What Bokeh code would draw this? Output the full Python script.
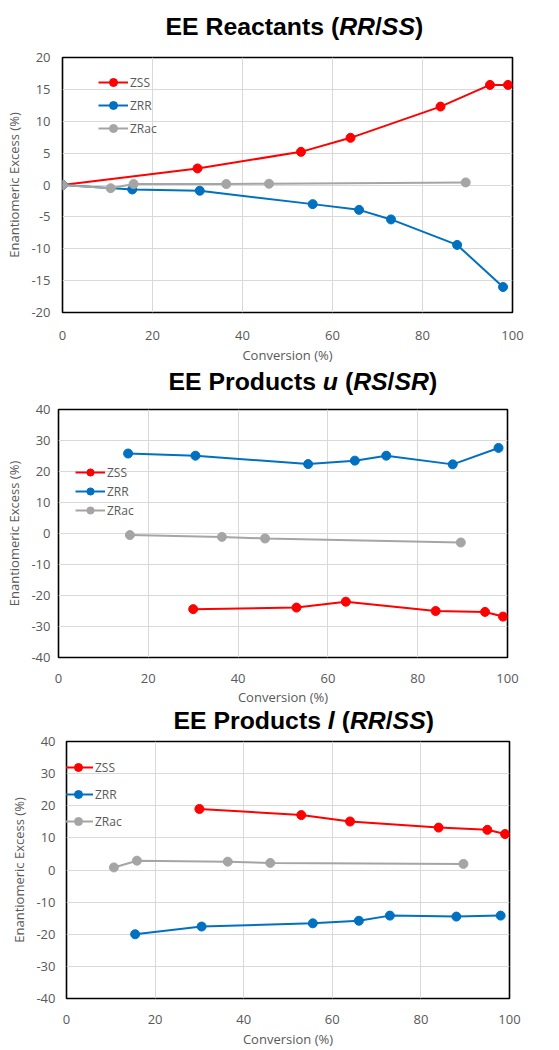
from bokeh.core.properties import value
from bokeh.embed import file_html
from bokeh.layouts import column
from bokeh.models import FixedTicker, Legend, LegendItem, Range1d
from bokeh.plotting import figure
from bokeh.resources import INLINE

# ---------------- data: conversion (%) vs enantiomeric excess (%) ----------------
# EE Reactants (RR/SS)
react_zss_x = [0, 30, 53, 64, 84, 95, 99]
react_zss_y = [0, 2.6, 5.2, 7.4, 12.3, 15.7, 15.7]
react_zrr_x = [0, 15.5, 30.5, 55.6, 65.9, 73, 87.7, 97.9]
react_zrr_y = [0, -0.7, -0.9, -3.0, -3.9, -5.4, -9.4, -16.0]
react_zrac_x = [0, 10.7, 15.8, 36.4, 45.9, 89.6]
react_zrac_y = [0, -0.5, 0.15, 0.15, 0.2, 0.4]

# EE Products u (RS/SR)
u_zss_x = [30, 53, 64, 84, 95, 99]
u_zss_y = [-24.4, -23.9, -22.0, -25.0, -25.3, -26.8]
u_zrr_x = [15.5, 30.5, 55.6, 66, 73, 87.8, 98]
u_zrr_y = [25.8, 25.1, 22.4, 23.5, 25.1, 22.3, 27.6]
u_zrac_x = [15.9, 36.4, 46, 89.6]
u_zrac_y = [-0.5, -1.1, -1.6, -2.9]

# EE Products l (RR/SS)
l_zss_x = [30, 53, 64, 84, 95, 99]
l_zss_y = [19.0, 17.1, 15.1, 13.2, 12.5, 11.2]
l_zrr_x = [15.5, 30.5, 55.6, 66, 73, 88, 98]
l_zrr_y = [-20.0, -17.6, -16.6, -15.8, -14.2, -14.5, -14.2]
l_zrac_x = [10.7, 15.9, 36.4, 46, 89.6]
l_zrac_y = [0.8, 2.9, 2.6, 2.2, 1.9]

series_names = ["ZSS", "ZRR", "ZRac"]
series_colors = ["#FF0000", "#0070C0", "#A5A5A5"]

x_ticks = [0, 20, 40, 60, 80, 100]
x_tick_labels = ["0", "20", "40", "60", "80", "100"]
react_y_ticks = [-20, -15, -10, -5, 0, 5, 10, 15, 20]
react_y_tick_labels = ["-20", "-15", "-10", "-5", "0", "5", "10", "15", "20"]
prod_y_ticks = [-40, -30, -20, -10, 0, 10, 20, 30, 40]
prod_y_tick_labels = ["-40", "-30", "-20", "-10", "0", "10", "20", "30", "40"]

x_title = "Conversion (%)"
y_title = "Enantiomeric Excess (%)"

react_title = [("EE Reactants (", "bold"), ("RR", "bold italic"), ("/", "bold"),
               ("SS", "bold italic"), (")", "bold")]
u_title = [("EE Products ", "bold"), ("u", "bold italic"), (" (", "bold"),
           ("RS", "bold italic"), ("/", "bold"), ("SR", "bold italic"), (")", "bold")]
l_title = [("EE Products ", "bold"), ("l", "bold italic"), (" (", "bold"),
           ("RR", "bold italic"), ("/", "bold"), ("SS", "bold italic"), (")", "bold")]

# ---------------- styling ----------------
WIDTH = 559
TEXT_GRAY = "#595959"
GRID_GRAY = "#D9D9D9"
SMALL_FONT = "Open Sans"
TITLE_FONT = "Liberation Sans"
TITLE_SIZE = 24.8
# distance from the centre of the font box to the alphabetic baseline
BASELINE_SHIFT = (0.905 - 0.212) / 2 * TITLE_SIZE

# advance widths (1/1000 em) of Liberation Sans Bold, used to butt title pieces together
BOLD_ADVANCE = {" ": 278, "(": 333, ")": 333, "/": 278, "E": 667, "P": 667, "R": 722,
                "S": 667, "a": 556, "c": 556, "d": 611, "e": 556, "l": 278, "n": 611,
                "o": 611, "r": 389, "s": 556, "t": 333, "u": 611}


def advance(s, size):
    return sum(BOLD_ADVANCE[ch] for ch in s) * size / 1000.0


def make_title(parts, height, start_x, baseline):
    """A strip holding a title made of bold and bold-italic pieces."""
    t = figure(frame_width=WIDTH, frame_height=height, min_border=0,
               x_range=Range1d(0, WIDTH), y_range=Range1d(0, height),
               x_axis_location=None, y_axis_location=None,
               toolbar_location=None, output_backend="svg", tools="")
    t.outline_line_color = None
    t.background_fill_color = "white"
    t.border_fill_color = "white"
    t.xgrid.visible = False
    t.ygrid.visible = False
    x = start_x
    y = baseline + BASELINE_SHIFT
    for text, style in parts:
        lead = len(text) - len(text.lstrip(" "))
        t.text(x=[x + advance(" " * lead, TITLE_SIZE)], y=[y], text=[text.strip(" ")],
               text_font=value(TITLE_FONT), text_font_style=value(style),
               text_font_size=value(f"{TITLE_SIZE}px"), text_color="black",
               text_align="left", text_baseline="middle")
        x += advance(text, TITLE_SIZE)
    return t


def make_panel(series, y_ticks, y_labels, geom, leg):
    y_lo, y_hi = y_ticks[0], y_ticks[-1]
    p = figure(frame_width=geom["fw"], frame_height=geom["fh"],
               min_border_left=geom["bl"], min_border_right=WIDTH - geom["bl"] - geom["fw"],
               min_border_top=geom["bt"], min_border_bottom=geom["bb"],
               x_range=Range1d(0, 100), y_range=Range1d(y_lo, y_hi),
               toolbar_location=None, output_backend="svg", tools="")
    p.background_fill_color = "white"
    p.border_fill_color = "white"
    p.outline_line_color = "black"
    p.outline_line_width = 1.6

    p.xaxis.ticker = FixedTicker(ticks=x_ticks)
    p.yaxis.ticker = FixedTicker(ticks=y_ticks)
    p.xaxis.major_label_overrides = dict(zip(x_ticks, x_tick_labels))
    p.yaxis.major_label_overrides = dict(zip(y_ticks, y_labels))
    for ax in (p.xaxis, p.yaxis):
        ax.axis_line_color = None
        ax.major_tick_line_color = None
        ax.minor_tick_line_color = None
        ax.major_tick_out = 0
        ax.major_tick_in = 0
        ax.major_label_text_font = SMALL_FONT
        ax.major_label_text_font_size = "13px"
        ax.major_label_text_color = TEXT_GRAY
        ax.axis_label_text_font = SMALL_FONT
        ax.axis_label_text_font_size = "13px"
        ax.axis_label_text_font_style = "normal"
        ax.axis_label_text_color = TEXT_GRAY
    p.xaxis.axis_label = x_title
    p.yaxis.axis_label = y_title
    p.xaxis.major_label_standoff = geom["xls"]
    p.xaxis.axis_label_standoff = geom["xas"]
    p.yaxis.major_label_standoff = geom["yls"]
    p.yaxis.axis_label_standoff = 5

    p.xgrid.grid_line_color = GRID_GRAY
    p.ygrid.grid_line_color = GRID_GRAY

    items = []
    for name, color, (xs, ys) in zip(series_names, series_colors, series):
        ln = p.line(xs, ys, line_color=color, line_width=2)
        sc = p.scatter(xs, ys, marker="circle", size=9, fill_color=color, line_color=color)
        items.append(LegendItem(label=name, renderers=[ln, sc]))

    legend = Legend(items=items, location=(leg["vx"], leg["vy"]),
                    border_line_color=None, background_fill_alpha=0,
                    padding=0, margin=0, spacing=leg["sp"],
                    glyph_width=30, glyph_height=leg["h"], label_height=leg["h"],
                    label_standoff=2, label_text_font=SMALL_FONT,
                    label_text_font_size="12px", label_text_color=TEXT_GRAY)
    p.add_layout(legend)
    return p


t1 = make_title(react_title, 47, 165, 12)
p1 = make_panel(
    [(react_zss_x, react_zss_y), (react_zrr_x, react_zrr_y), (react_zrac_x, react_zrac_y)],
    react_y_ticks, react_y_tick_labels,
    dict(fw=450, fh=255, bl=62, bt=10, bb=54, xls=18, xas=3, yls=12),
    dict(vx=36, vy=174, h=20, sp=3),
)
t2 = make_title(u_title, 34, 168, 10.7)
p2 = make_panel(
    [(u_zss_x, u_zss_y), (u_zrr_x, u_zrr_y), (u_zrac_x, u_zrac_y)],
    prod_y_ticks, prod_y_tick_labels,
    dict(fw=449, fh=248, bl=58, bt=9, bb=51, xls=16, xas=2, yls=8),
    dict(vx=17, vy=138, h=18, sp=1),
)
t3 = make_title(l_title, 25, 173, 4.7)
p3 = make_panel(
    [(l_zss_x, l_zss_y), (l_zrr_x, l_zrr_y), (l_zrac_x, l_zrac_y)],
    prod_y_ticks, prod_y_tick_labels,
    dict(fw=443, fh=257, bl=66, bt=8, bb=52, xls=16, xas=3, yls=11),
    dict(vx=-3, vy=167, h=20, sp=7),
)

# each figure sits in its own box so that the frames keep their own borders
layout = column(*[column(f, spacing=0) for f in (t1, p1, t2, p2, t3, p3)], spacing=0)
open("out.html", "w").write(file_html(layout, INLINE))
